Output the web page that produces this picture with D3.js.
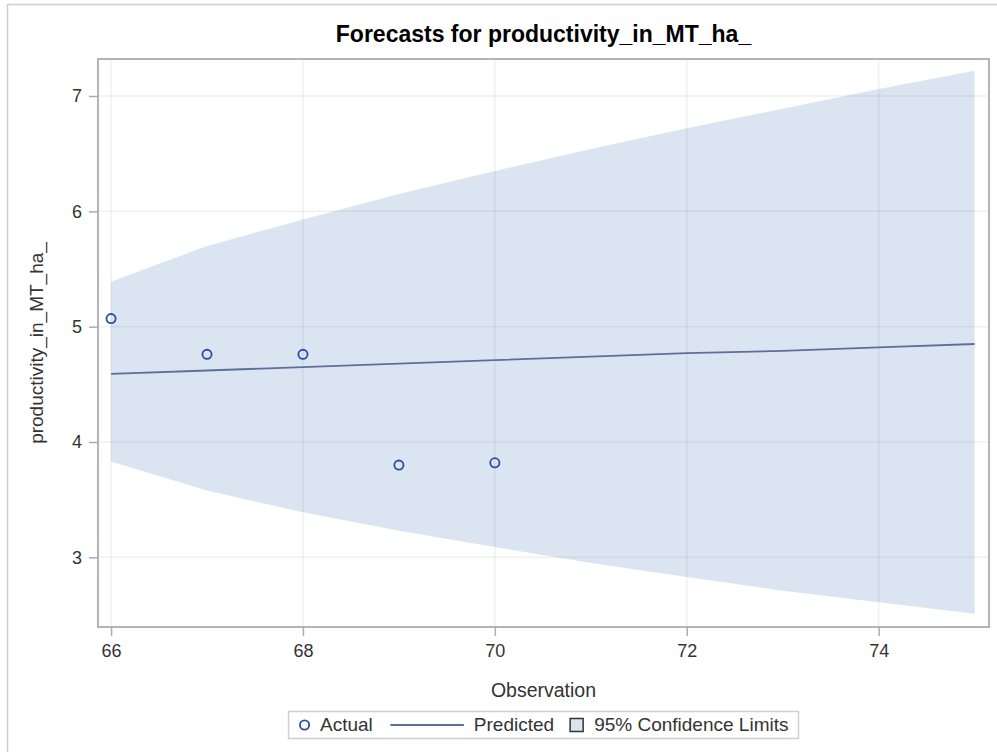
<!DOCTYPE html>
<html>
<head>
<meta charset="utf-8">
<script src="https://cdn.jsdelivr.net/npm/d3@7"></script>
<style>
  body { margin: 0; background: #fff; }
  svg { display: block; font-family: "Liberation Sans", Arial, sans-serif; }
</style>
</head>
<body>
<div id="chart"></div>
<script>
// observations with actual values
var actualObs = [66, 67, 68, 69, 70];
var actualValues = [5.07, 4.76, 4.76, 3.80, 3.82];

// forecast horizon
var forecastObs = [66, 67, 68, 69, 70, 71, 72, 73, 74, 75];
var predicted = [4.59, 4.62, 4.65, 4.68, 4.71, 4.74, 4.77, 4.79, 4.82, 4.85];
var upper95 = [5.39, 5.70, 5.93, 6.15, 6.35, 6.54, 6.72, 6.89, 7.06, 7.22];
var lower95 = [3.83, 3.58, 3.39, 3.23, 3.09, 2.95, 2.83, 2.71, 2.61, 2.51];

var xTicks = [66, 68, 70, 72, 74];
var yTicks = [3, 4, 5, 6, 7];

var title = 'Forecasts for productivity_in_MT_ha_';
var xLabel = 'Observation';
var yLabel = 'productivity_in_MT_ha_';
var legendLabels = ['Actual', 'Predicted', '95% Confidence Limits'];

var width = 997, height = 752;
var margin = {top: 59, right: 8, bottom: 125, left: 98};
var bandColor = '#dbe5f2',
    lineColor = '#5c6f9b',
    markerColor = '#2b4ea6',
    gridColor = 'rgba(0,0,0,0.06)',
    frameColor = '#a9adb2',
    textColor = '#333';

var svg = d3.select('#chart')
    .append('svg')
    .attr('width', width)
    .attr('height', height);

// outer border
svg.append('rect')
    .attr('x', 7.5).attr('y', 4.5)
    .attr('width', width).attr('height', height)
    .attr('fill', 'none')
    .attr('stroke', '#d0d0d0')
    .attr('stroke-width', 1.5);

var x = d3.scaleLinear()
    .domain([66 - 0.136, 75 + 0.15])
    .range([margin.left, width - margin.right]);
var y = d3.scaleLinear()
    .domain([2.396, 7.321])
    .range([height - margin.bottom, margin.top]);

var plot = svg.append('g');

// confidence band
var band = d3.area()
    .x(function(d, i) { return x(forecastObs[i]); })
    .y0(function(d, i) { return y(lower95[i]); })
    .y1(function(d, i) { return y(upper95[i]); });
plot.append('path')
    .datum(forecastObs)
    .attr('d', band)
    .attr('fill', bandColor);

// grid lines
plot.selectAll('.gx').data(xTicks).enter().append('line')
    .attr('x1', function(d) { return x(d); })
    .attr('x2', function(d) { return x(d); })
    .attr('y1', margin.top).attr('y2', height - margin.bottom)
    .attr('stroke', gridColor).attr('stroke-width', 1.5);
plot.selectAll('.gy').data(yTicks).enter().append('line')
    .attr('y1', function(d) { return y(d); })
    .attr('y2', function(d) { return y(d); })
    .attr('x1', margin.left).attr('x2', width - margin.right)
    .attr('stroke', gridColor).attr('stroke-width', 1.5);

// predicted line
var line = d3.line()
    .x(function(d, i) { return x(forecastObs[i]); })
    .y(function(d) { return y(d); });
plot.append('path')
    .datum(predicted)
    .attr('d', line)
    .attr('fill', 'none')
    .attr('stroke', lineColor)
    .attr('stroke-width', 1.8);

// actual markers
plot.selectAll('.pt').data(actualValues).enter().append('circle')
    .attr('cx', function(d, i) { return x(actualObs[i]); })
    .attr('cy', function(d) { return y(d); })
    .attr('r', 4.6)
    .attr('fill', 'none')
    .attr('stroke', markerColor)
    .attr('stroke-width', 1.8);

// axes
var xAxis = svg.append('g')
    .attr('transform', 'translate(0,' + (height - margin.bottom) + ')')
    .call(d3.axisBottom(x).tickValues(xTicks).tickFormat(d3.format('d'))
        .tickSize(9).tickPadding(8).tickSizeOuter(0));
var yAxis = svg.append('g')
    .attr('transform', 'translate(' + margin.left + ',0)')
    .call(d3.axisLeft(y).tickValues(yTicks).tickFormat(d3.format('d'))
        .tickSize(9).tickPadding(7).tickSizeOuter(0));
[xAxis, yAxis].forEach(function(ax) {
    ax.select('.domain').remove();
    ax.selectAll('line').attr('stroke', frameColor).attr('stroke-width', 1.5);
    ax.selectAll('text').attr('fill', textColor).style('font-size', '18px')
        .style('font-family', '"Liberation Sans", Arial, sans-serif');
});

// frame
svg.append('rect')
    .attr('x', margin.left).attr('y', margin.top)
    .attr('width', width - margin.left - margin.right)
    .attr('height', height - margin.top - margin.bottom)
    .attr('fill', 'none')
    .attr('stroke', frameColor)
    .attr('stroke-width', 1.8);

var cx = (margin.left + width - margin.right) / 2;

svg.append('text')
    .attr('x', cx).attr('y', 41.5)
    .attr('text-anchor', 'middle')
    .style('font-size', '23px').style('font-weight', 'bold')
    .attr('fill', '#000')
    .text(title);

svg.append('text')
    .attr('x', cx).attr('y', 697)
    .attr('text-anchor', 'middle')
    .style('font-size', '19.5px')
    .attr('fill', textColor)
    .text(xLabel);

svg.append('text')
    .attr('transform', 'translate(43,' + ((margin.top + height - margin.bottom) / 2) + ') rotate(-90)')
    .attr('text-anchor', 'middle')
    .style('font-size', '19px')
    .attr('fill', textColor)
    .text(yLabel);

// legend, laid out left to right and centred
var legend = svg.append('g');
var lgBase = 731, lgMid = 725;
var box = legend.append('rect')
    .attr('y', 711.5).attr('height', 27)
    .attr('fill', '#fff')
    .attr('stroke', '#d0d0d0')
    .attr('stroke-width', 1.5);
var cur = 0;
cur += 16;
legend.append('circle')
    .attr('cx', cur).attr('cy', lgMid).attr('r', 4.6)
    .attr('fill', 'none').attr('stroke', markerColor).attr('stroke-width', 1.8);
cur += 15.5;
function addText(s) {
    var t = legend.append('text')
        .attr('x', cur).attr('y', lgBase)
        .style('font-size', '19px')
        .attr('fill', textColor)
        .text(s);
    cur += t.node().getComputedTextLength();
}
addText(legendLabels[0]);
cur += 17.5;
legend.append('line')
    .attr('x1', cur).attr('x2', cur + 73.5)
    .attr('y1', lgMid).attr('y2', lgMid)
    .attr('stroke', lineColor).attr('stroke-width', 1.8);
cur += 73.5 + 10;
addText(legendLabels[1]);
cur += 16;
legend.append('rect')
    .attr('x', cur).attr('y', lgMid - 6.5)
    .attr('width', 13).attr('height', 13)
    .attr('fill', bandColor).attr('stroke', '#333').attr('stroke-width', 1.5);
cur += 13 + 11;
addText(legendLabels[2]);
cur += 10;
box.attr('x', 0).attr('width', cur);
legend.attr('transform', 'translate(' + (cx - cur / 2) + ',0)');
</script>
</body>
</html>
